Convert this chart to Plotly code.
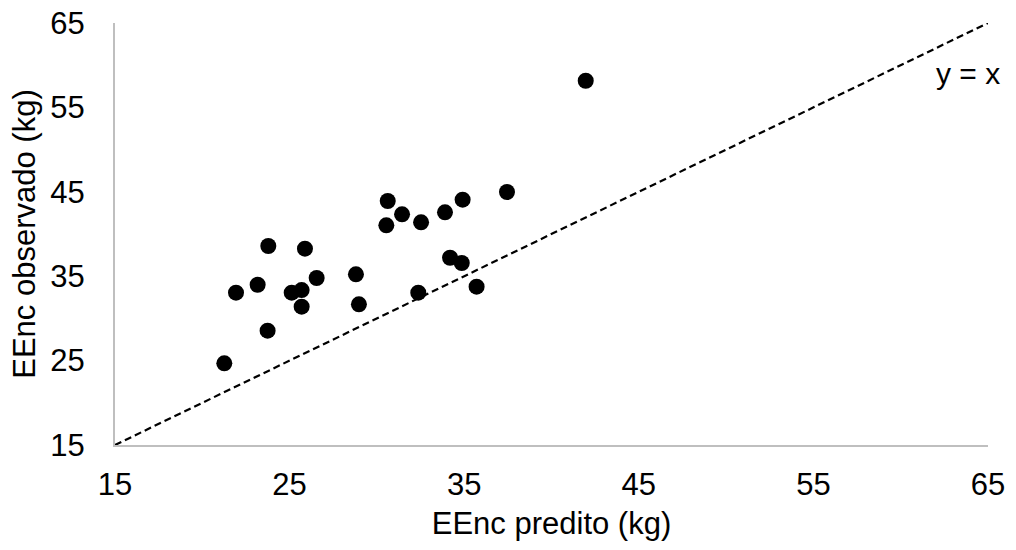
import plotly.graph_objects as go

predito = [21.93, 23.17, 23.78, 23.74, 21.26, 25.12, 25.69, 25.69, 25.88, 26.55,
           28.80, 28.97, 30.62, 30.54, 31.44, 32.53, 32.37, 33.90, 34.91, 34.19,
           34.86, 35.71, 37.45, 41.96]
observado = [33.05, 33.99, 38.58, 28.55, 24.68, 33.05, 33.36, 31.39, 38.26, 34.79,
             35.22, 31.67, 43.91, 41.03, 42.33, 41.38, 33.05, 42.57, 44.07, 37.19,
             36.56, 33.76, 44.98, 58.16]
ref_line = [15, 65]
tick_vals = [15, 25, 35, 45, 55, 65]

font = "Liberation Sans, Arial, sans-serif"

fig = go.Figure()
fig.add_trace(go.Scatter(x=ref_line, y=ref_line, mode="lines",
                         line=dict(color="black", width=2.2, dash="7px,4px"),
                         showlegend=False, hoverinfo="skip"))
fig.add_trace(go.Scatter(x=predito, y=observado, mode="markers",
                         marker=dict(color="black", size=16),
                         showlegend=False))
fig.add_annotation(x=63.85, y=58.96, text="y = x", showarrow=False,
                   font=dict(family=font, size=30, color="black"))

axis_common = dict(range=[15, 65], tickvals=tick_vals, showgrid=False, zeroline=False,
                   showline=True, linecolor="#bfbfbf", linewidth=2, automargin=False,
                   tickfont=dict(family=font, size=31, color="black"),
                   ticks="", ticklabeloverflow="allow")

fig.update_layout(
    width=1016, height=550,
    margin=dict(l=115, r=28, t=23, b=105),
    paper_bgcolor="white", plot_bgcolor="white",
    xaxis=dict(**axis_common, ticklabelstandoff=11,
               title=dict(text="EEnc predito (kg)", font=dict(family=font, size=31, color="black"),
                          standoff=11)),
    yaxis=dict(**axis_common, ticklabelstandoff=22,
               title=dict(text="EEnc observado (kg)", font=dict(family=font, size=31, color="black"),
                          standoff=5)),
)
fig.write_html("out.html", config={"displayModeBar": False},
               post_script="document.body.style.margin='0';document.body.style.overflow='hidden';")
